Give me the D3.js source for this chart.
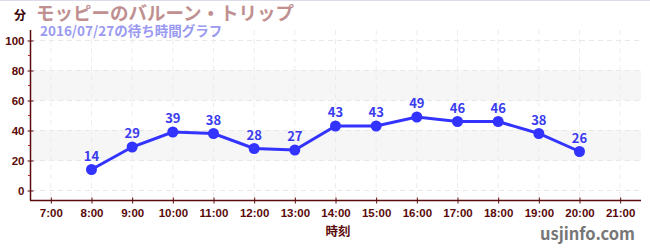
<!DOCTYPE html>
<html>
<head>
<meta charset="utf-8">
<script src="https://cdn.jsdelivr.net/npm/d3@7"></script>
<style>
  body { margin: 0; background: #fff; }
  svg { display: block; font-family: "Noto Sans CJK JP", "Noto Sans", sans-serif; }
</style>
</head>
<body>
<div id="chart"></div>
<script>
// DATA
const hours = [8, 9, 10, 11, 12, 13, 14, 15, 16, 17, 18, 19, 20];
const waits = [14, 29, 39, 38, 28, 27, 43, 43, 49, 46, 46, 38, 26];
const xTicks = [7, 8, 9, 10, 11, 12, 13, 14, 15, 16, 17, 18, 19, 20, 21];
const yTicks = [0, 20, 40, 60, 80, 100];
const yMinorTicks = [10, 30, 50, 70, 90];
const bands = [[20, 40], [60, 80]];

// LAYOUT
const width = 650;
const height = 250;
const axisColor = "#5a0a0a";
const lineColor = "#3333ff";

const svg = d3.select("#chart")
    .append("svg")
    .attr("width", width)
    .attr("height", height);

// top border line
svg.append("line")
    .attr("x1", 0).attr("x2", width)
    .attr("y1", 0.5).attr("y2", 0.5)
    .attr("stroke", "#dcdcec");

const x = d3.scaleLinear().domain([6.5, 21.5]).range([30.5, 640.5]);
const y = d3.scaleLinear().domain([0, 100]).range([190.5, 40.5]);

// background bands
svg.selectAll(".band")
    .data(bands)
    .join("rect")
    .attr("x", 31)
    .attr("width", 610)
    .attr("y", d => y(d[1]))
    .attr("height", d => y(d[0]) - y(d[1]))
    .attr("fill", "#f6f6f6");

// dashed grid
svg.selectAll(".hgrid")
    .data(yTicks)
    .join("line")
    .attr("x1", 31).attr("x2", 641)
    .attr("y1", d => y(d)).attr("y2", d => y(d))
    .attr("stroke", "#e8e8e8")
    .attr("stroke-dasharray", "5,4");

svg.selectAll(".vgrid")
    .data(xTicks)
    .join("line")
    .attr("x1", d => x(d)).attr("x2", d => x(d))
    .attr("y1", 30).attr("y2", 200)
    .attr("stroke", "#ececec")
    .attr("stroke-dasharray", "5,4");

// y axis
const yAxis = svg.append("g")
    .attr("transform", "translate(30.5,0)")
    .call(d3.axisLeft(y).tickValues(yTicks).tickSize(3).tickPadding(3));
yAxis.select(".domain").remove();
yAxis.selectAll(".tick line").attr("x1", 3).attr("x2", -3).attr("stroke", axisColor);
yAxis.selectAll("text")
    .attr("fill", axisColor)
    .style("font-size", "11.5px")
    .style("font-weight", "bold");

svg.selectAll(".minor")
    .data(yMinorTicks)
    .join("line")
    .attr("x1", 28).attr("x2", 31)
    .attr("y1", d => y(d)).attr("y2", d => y(d))
    .attr("stroke", "#cc2222");

svg.append("line")
    .attr("x1", 30.5).attr("x2", 30.5)
    .attr("y1", 30).attr("y2", 200.5)
    .attr("stroke", axisColor)
    .attr("stroke-width", 1.5);

// x axis
const xAxis = svg.append("g")
    .attr("transform", "translate(0,200.5)")
    .call(d3.axisBottom(x).tickValues(xTicks).tickSize(3).tickPadding(5)
        .tickFormat(d => d + ":00"));
xAxis.select(".domain").remove();
xAxis.selectAll(".tick line").attr("y1", -3).attr("y2", 3).attr("stroke", axisColor);
xAxis.selectAll("text")
    .attr("fill", axisColor)
    .style("font-size", "11.5px")
    .style("font-weight", "bold");

svg.append("line")
    .attr("x1", 30).attr("x2", 641)
    .attr("y1", 200.5).attr("y2", 200.5)
    .attr("stroke", axisColor)
    .attr("stroke-width", 1.5);

// line + points
const points = hours.map((h, i) => ({hour: h, wait: waits[i]}));

svg.append("path")
    .datum(points)
    .attr("fill", "none")
    .attr("stroke", lineColor)
    .attr("stroke-width", 3)
    .attr("d", d3.line().x(d => x(d.hour)).y(d => y(d.wait)));

svg.selectAll(".dot")
    .data(points)
    .join("circle")
    .attr("cx", d => x(d.hour))
    .attr("cy", d => y(d.wait))
    .attr("r", 5.5)
    .attr("fill", lineColor);

svg.selectAll(".val")
    .data(points)
    .join("text")
    .attr("x", d => x(d.hour))
    .attr("y", d => y(d.wait) - 9)
    .attr("text-anchor", "middle")
    .attr("fill", "#3a3aee")
    .style("font-size", "13px")
    .style("font-weight", "bold")
    .text(d => d.wait);

// titles
svg.append("text")
    .attr("x", 14).attr("y", 20)
    .attr("fill", "#3a0000")
    .style("font-size", "12px")
    .style("font-weight", "bold")
    .text("分");

svg.append("text")
    .attr("x", 36).attr("y", 20)
    .attr("fill", "#c09090")
    .style("font-size", "18.5px")
    .style("font-weight", "bold")
    .text("モッピーのバルーン・トリップ");

svg.append("text")
    .attr("x", 40).attr("y", 36)
    .attr("fill", "#9a9af0")
    .style("font-size", "13.5px")
    .style("font-weight", "bold")
    .text("2016/07/27の待ち時間グラフ");

svg.append("text")
    .attr("x", 338).attr("y", 236)
    .attr("text-anchor", "middle")
    .attr("fill", axisColor)
    .style("font-size", "12.5px")
    .style("font-weight", "bold")
    .text("時刻");

svg.append("text")
    .attr("x", 635).attr("y", 240)
    .attr("text-anchor", "end")
    .attr("fill", "#777")
    .style("font-size", "16.5px")
    .style("font-weight", "bold")
    .text("usjinfo.com");
</script>
</body>
</html>
